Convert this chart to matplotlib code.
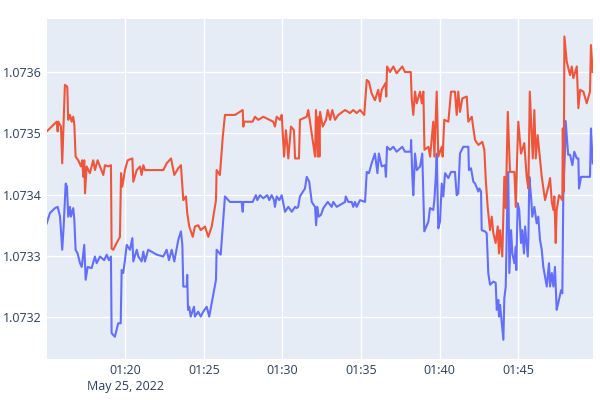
import matplotlib.pyplot as plt
import numpy as np
import pandas as pd

# minutes after 01:00 on May 25, 2022
red_t = [15.00, 15.32, 15.64, 15.70, 15.74, 15.91, 15.99, 16.16, 16.31, 16.37,
         16.48, 16.59, 16.69, 16.76, 16.84, 17.01, 17.18, 17.26, 17.33, 17.39,
         17.44, 17.54, 17.75, 17.96, 18.07, 18.24, 18.39, 18.60, 18.71, 18.92,
         19.09, 19.13, 19.24, 19.45, 19.66, 19.73, 19.81, 19.98, 20.15, 20.45,
         20.51, 20.73, 20.94, 21.04, 21.15, 21.25, 22.42, 22.63, 22.91, 23.12,
         23.37, 23.54, 23.69, 23.86, 23.94, 24.07, 24.29, 24.43, 24.64, 24.80,
         25.07, 25.28, 25.50, 25.77, 25.81, 26.02, 26.20, 26.34, 26.98, 27.47,
         27.51, 27.55, 28.10, 28.25, 28.46, 28.78, 29.10, 29.41, 29.52, 29.63,
         29.84, 29.95, 30.10, 30.22, 30.37, 30.54, 30.73, 30.80, 31.05, 31.11,
         31.54, 31.64, 31.75, 32.07, 32.13, 32.24, 32.30, 32.35, 32.39, 32.56,
         32.77, 32.88, 33.03, 33.17, 33.34, 33.55, 33.98, 34.29, 34.50, 34.72,
         34.93, 35.20, 35.36, 35.50, 35.67, 35.88, 36.09, 36.20, 36.31, 36.56,
         36.60, 36.65, 36.84, 37.05, 37.26, 37.62, 37.79, 38.16, 38.22, 38.32,
         38.43, 38.54, 38.75, 38.86, 38.96, 39.03, 39.28, 39.39, 39.59, 39.66,
         39.81, 39.91, 40.13, 40.19, 40.29, 40.55, 40.72, 40.97, 41.08, 41.18,
         41.29, 41.44, 41.72, 41.82, 42.04,
         42.14, 42.25, 42.46, 42.71, 42.84, 42.93, 43.05, 43.20, 43.31, 43.41,
         43.56, 43.69, 43.77, 43.84, 43.98, 44.11, 44.20, 44.33, 44.47, 44.75,
         44.84, 44.94, 45.00, 45.17, 45.38, 45.53, 45.64, 45.73, 45.85, 45.92,
         46.02, 46.11, 46.23, 46.49, 46.70, 46.91, 47.02, 47.13, 47.23, 47.29,
         47.38, 47.44, 47.59, 47.65, 47.80, 47.83, 47.89, 47.93,
         48.08, 48.29, 48.40, 48.50, 48.72, 48.82, 48.93, 49.14, 49.35, 49.56,
         49.62, 49.73]
red_v = [1.073503, 1.073511, 1.073519, 1.073503, 1.073519, 1.073511, 1.073451, 1.073579, 1.073576, 1.073522,
         1.073530, 1.073519, 1.073527, 1.073514, 1.073462, 1.073456, 1.073446, 1.073456, 1.073429, 1.073456,
         1.073402, 1.073446, 1.073435, 1.073456, 1.073440, 1.073456, 1.073446, 1.073432, 1.073448, 1.073446,
         1.073448, 1.073312, 1.073310, 1.073321, 1.073331, 1.073435, 1.073413, 1.073440, 1.073456, 1.073459,
         1.073421, 1.073440, 1.073446, 1.073432, 1.073448, 1.073440, 1.073440, 1.073451, 1.073459, 1.073432,
         1.073443, 1.073448, 1.073391, 1.073397, 1.073370, 1.073348, 1.073331, 1.073348, 1.073350, 1.073342,
         1.073348, 1.073331, 1.073348, 1.073391, 1.073440, 1.073432, 1.073494, 1.073530, 1.073530, 1.073538,
         1.073511, 1.073519, 1.073519, 1.073527, 1.073522, 1.073527, 1.073523, 1.073519, 1.073511, 1.073527,
         1.073522, 1.073530, 1.073462, 1.073505, 1.073459, 1.073511, 1.073505, 1.073459, 1.073459, 1.073522,
         1.073527, 1.073538, 1.073519, 1.073462, 1.073538, 1.073462, 1.073527, 1.073462, 1.073535, 1.073511,
         1.073522, 1.073538, 1.073522, 1.073538, 1.073522, 1.073530, 1.073538, 1.073533, 1.073538, 1.073533,
         1.073538, 1.073530, 1.073587, 1.073584, 1.073565, 1.073554, 1.073571, 1.073552, 1.073571, 1.073582,
         1.073560, 1.073609, 1.073600, 1.073609, 1.073598, 1.073609, 1.073600, 1.073600, 1.073557, 1.073530,
         1.073568, 1.073549, 1.073568, 1.073549, 1.073568, 1.073473, 1.073478, 1.073462, 1.073519, 1.073462,
         1.073568, 1.073462, 1.073478, 1.073462, 1.073522, 1.073519, 1.073568, 1.073568, 1.073530, 1.073568,
         1.073535, 1.073557, 1.073560, 1.073519, 1.073527,
         1.073508, 1.073489, 1.073481, 1.073486, 1.073473, 1.073424, 1.073380, 1.073342, 1.073364, 1.073337,
         1.073321, 1.073348, 1.073304, 1.073342, 1.073299, 1.073429, 1.073378, 1.073535, 1.073437, 1.073437,
         1.073380, 1.073473, 1.073519, 1.073467, 1.073484, 1.073429, 1.073410, 1.073568, 1.073497, 1.073459,
         1.073538, 1.073459, 1.073497, 1.073429, 1.073391, 1.073413, 1.073427, 1.073388, 1.073375, 1.073397,
         1.073321, 1.073375, 1.073399, 1.073397, 1.073391, 1.073508, 1.073405, 1.073658,
         1.073617, 1.073595, 1.073609, 1.073590, 1.073609, 1.073541, 1.073571, 1.073568, 1.073549, 1.073568,
         1.073644, 1.073600]

blue_t = [15.00, 15.21, 15.53, 15.70, 15.85, 15.99, 16.08, 16.21, 16.29, 16.37,
          16.48, 16.54, 16.69, 16.76, 16.84, 16.97, 17.12, 17.23, 17.39, 17.48,
          17.61, 17.86, 18.07, 18.18, 18.39, 18.66, 18.82, 18.96, 19.09, 19.13,
          19.34, 19.55, 19.71, 19.77, 19.87, 19.98, 20.09, 20.30, 20.45, 20.51,
          20.73, 20.83, 21.04, 21.15, 21.25, 21.46, 22.00, 22.42, 22.63, 22.78,
          22.95, 23.12, 23.37, 23.54, 23.63, 23.69, 23.91, 23.94, 23.99, 24.07,
          24.16, 24.37, 24.43, 24.64, 24.80, 24.96, 25.18, 25.34, 25.77, 25.81,
          26.07, 26.34, 26.66, 27.40, 27.47, 27.51, 28.10, 28.31, 28.40, 28.57,
          28.78, 29.03, 29.16, 29.31, 29.46, 29.52, 29.63, 29.80, 29.95, 30.16,
          30.37, 30.59, 30.80, 30.90, 31.00, 31.11, 31.43, 31.54, 31.70, 31.86,
          32.07, 32.14, 32.21, 32.30, 32.45, 32.60, 32.88, 33.13, 33.23, 33.45,
          33.98, 34.02, 34.19, 34.40, 34.50, 34.61, 34.72, 34.93, 35.25, 35.36,
          35.50, 35.67, 35.88, 36.04, 36.13, 36.31, 36.52, 36.58, 36.65, 36.84,
          37.05, 37.26, 37.62, 37.79, 38.16, 38.18, 38.26, 38.32, 38.43, 38.54,
          38.75, 38.89, 39.02, 39.28, 39.38, 39.59, 39.66, 39.75, 39.81, 39.91,
          40.02, 40.13, 40.23, 40.34, 40.55, 40.72, 40.97, 41.08, 41.18, 41.29,
          41.50, 41.82, 41.86, 41.99, 42.14,
          42.25, 42.46, 42.52, 42.63, 42.67, 42.88, 42.99, 43.09, 43.20, 43.41,
          43.56, 43.63, 43.73, 43.77, 43.84, 44.05, 44.11, 44.20, 44.33, 44.36,
          44.43, 44.54, 44.62, 44.75, 44.84, 44.87, 44.96, 45.06, 45.17, 45.25,
          45.36, 45.43, 45.60, 45.64, 45.70, 45.81, 45.89, 46.02, 46.17, 46.27,
          46.38, 46.49, 46.59, 46.81, 46.95, 47.02, 47.13, 47.23, 47.33, 47.44,
          47.54, 47.72, 47.80, 47.86, 47.97, 48.01, 48.17, 48.29, 48.44, 48.56,
          48.72, 48.82, 48.86, 48.99, 49.56, 49.62, 49.73]
blue_v = [1.073353, 1.073370, 1.073378, 1.073380, 1.073364, 1.073310, 1.073348, 1.073418, 1.073413, 1.073364,
          1.073380, 1.073364, 1.073378, 1.073359, 1.073310, 1.073304, 1.073288, 1.073282, 1.073318, 1.073261,
          1.073282, 1.073280, 1.073299, 1.073288, 1.073299, 1.073293, 1.073302, 1.073293, 1.073299, 1.073174,
          1.073168, 1.073190, 1.073190, 1.073277, 1.073272, 1.073293, 1.073318, 1.073310, 1.073329, 1.073291,
          1.073310, 1.073299, 1.073291, 1.073307, 1.073291, 1.073310, 1.073302, 1.073299, 1.073310, 1.073293,
          1.073310, 1.073291, 1.073326, 1.073340, 1.073318, 1.073250, 1.073250, 1.073269, 1.073212, 1.073217,
          1.073201, 1.073217, 1.073201, 1.073209, 1.073201, 1.073209, 1.073217, 1.073201, 1.073261, 1.073310,
          1.073302, 1.073397, 1.073388, 1.073388, 1.073372, 1.073388, 1.073388, 1.073399, 1.073391, 1.073399,
          1.073394, 1.073399, 1.073391, 1.073399, 1.073391, 1.073380, 1.073397, 1.073391, 1.073399, 1.073372,
          1.073380, 1.073372, 1.073380, 1.073378, 1.073380, 1.073397, 1.073410, 1.073429, 1.073421, 1.073388,
          1.073380, 1.073350, 1.073380, 1.073364, 1.073367, 1.073378, 1.073388, 1.073380, 1.073388, 1.073380,
          1.073388, 1.073397, 1.073388, 1.073388, 1.073380, 1.073388, 1.073380, 1.073391, 1.073388, 1.073437,
          1.073435, 1.073451, 1.073467, 1.073435, 1.073467, 1.073446, 1.073448, 1.073429, 1.073478, 1.073473,
          1.073478, 1.073470, 1.073478, 1.073470, 1.073470, 1.073489, 1.073429, 1.073399, 1.073467, 1.073440,
          1.073446, 1.073467, 1.073340, 1.073356, 1.073378, 1.073375, 1.073391, 1.073429, 1.073467, 1.073345,
          1.073356, 1.073418, 1.073397, 1.073435, 1.073427, 1.073437, 1.073437, 1.073399, 1.073402, 1.073467,
          1.073478, 1.073478, 1.073440, 1.073443, 1.073421,
          1.073418, 1.073405, 1.073410, 1.073405, 1.073342, 1.073340, 1.073337, 1.073272, 1.073253, 1.073258,
          1.073256, 1.073212, 1.073228, 1.073201, 1.073220, 1.073163, 1.073231, 1.073250, 1.073429, 1.073437,
          1.073272, 1.073342, 1.073304, 1.073288, 1.073315, 1.073277, 1.073386, 1.073375, 1.073321, 1.073342,
          1.073304, 1.073348, 1.073299, 1.073326, 1.073429, 1.073397, 1.073364, 1.073380, 1.073353, 1.073364,
          1.073326, 1.073310, 1.073282, 1.073250, 1.073288, 1.073250, 1.073272, 1.073250, 1.073282, 1.073212,
          1.073223, 1.073244, 1.073239, 1.073397, 1.073473, 1.073520, 1.073465, 1.073465, 1.073448, 1.073470,
          1.073459, 1.073459, 1.073410, 1.073429, 1.073429, 1.073508, 1.073451]

y_ticks = [1.0732, 1.0733, 1.0734, 1.0735, 1.0736]
x_tick_min = [20, 25, 30, 35, 40, 45]
x_tick_labels = ["01:20\nMay 25, 2022", "01:25", "01:30", "01:35", "01:40", "01:45"]

base = pd.Timestamp("2022-05-25 01:00")
red_times = base + pd.to_timedelta(red_t, unit="min")
blue_times = base + pd.to_timedelta(blue_t, unit="min")

plt.rcParams['font.family'] = ['Open Sans', 'DejaVu Sans']
fig = plt.figure(figsize=(6, 4), dpi=100)
ax = fig.add_axes([0.0783, 0.1033, 0.9095, 0.8492])
ax.set_facecolor('#E5ECF6')

ax.plot(blue_times, blue_v, color='#636EFA', lw=1.5, solid_joinstyle='round', zorder=3)
ax.plot(red_times, red_v, color='#EF553B', lw=1.5, solid_joinstyle='round', zorder=3)

ax.set_xlim(base + pd.Timedelta(minutes=15.02), base + pd.Timedelta(minutes=49.73))
ax.set_ylim(1.0731323, 1.0736865)

ax.set_xticks(base + pd.to_timedelta(x_tick_min, unit="min"))
ax.set_xticklabels(x_tick_labels, ha='center', va='top', linespacing=1.25)
ax.set_yticks(y_ticks)
ax.set_yticklabels([f"{v:.4f}" for v in y_ticks])

ax.grid(True, color='white', lw=1)
ax.set_axisbelow(True)
for s in ax.spines.values():
    s.set_visible(False)
ax.tick_params(length=0, labelsize=9, colors='#2a3f5f', pad=4)

fig.savefig('out.png')
